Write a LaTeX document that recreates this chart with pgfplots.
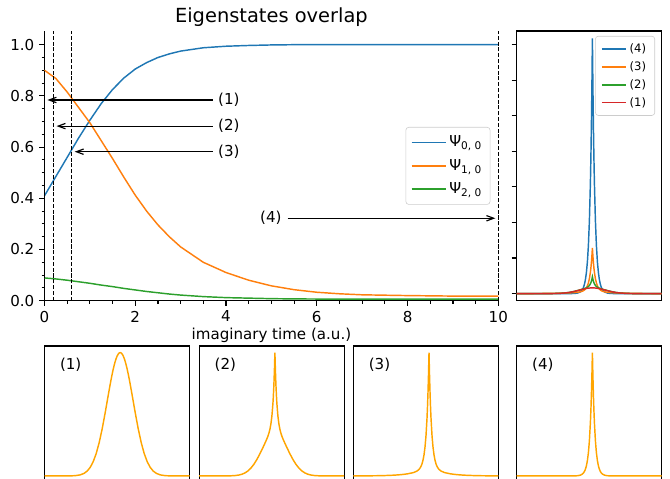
\documentclass[border=0pt]{standalone}
\usepackage{fontspec}
\setmainfont{DejaVu Sans}
\usepackage{pgfplots}
\pgfplotsset{compat=1.18}
\usepackage{pgfplotstable}
\usetikzlibrary{arrows.meta}

\definecolor{tabblue}{HTML}{1F77B4}
\definecolor{taborange}{HTML}{FF7F0E}
\definecolor{tabgreen}{HTML}{2CA02C}
\definecolor{tabred}{HTML}{D62728}
\definecolor{mplorange}{HTML}{FFA500}

% overlaps vs imaginary time
\pgfplotstableread{
t b o g
0 0.410 0.900 0.089
0.25 0.485 0.868 0.085
0.5 0.560 0.815 0.080
0.75 0.635 0.755 0.074
1 0.705 0.695 0.068
1.25 0.770 0.625 0.061
1.5 0.825 0.555 0.055
1.75 0.870 0.482 0.048
2 0.905 0.412 0.042
2.25 0.930 0.350 0.036
2.5 0.950 0.296 0.031
2.75 0.964 0.250 0.026
3 0.975 0.210 0.022
3.5 0.988 0.150 0.016
4 0.994 0.110 0.012
4.5 0.997 0.080 0.010
5 0.999 0.058 0.008
5.5 1.000 0.043 0.007
6 1.000 0.033 0.0065
6.5 1.000 0.027 0.006
7 1.000 0.023 0.006
8 1.000 0.020 0.006
9 1.000 0.018 0.006
10 1.000 0.018 0.006
}\overlaps

% densities: p = normalised (bottom row), r = raw (right panel)
\pgfplotstableread{
d p1 p2 p3 p4 r1 r2 r3 r4
-75.7 0 0 0.0004 0 0 0 0.0005 0
-60 0 0 0.0011 0 0 0 0.0014 0
-50 0.0006 0.0002 0.0022 0 0.0001 0.0001 0.003 0
-45 0.0025 0.0009 0.0032 0 0.0004 0.0004 0.004 0
-40 0.0088 0.0031 0.0046 0 0.0014 0.0015 0.006 0
-36 0.0216 0.0076 0.0061 0 0.0035 0.0036 0.008 0
-33 0.0398 0.0139 0.0076 0 0.0064 0.0065 0.010 0
-30 0.0697 0.0244 0.0094 0 0.011 0.011 0.012 0
-27 0.1157 0.0405 0.0116 0 0.019 0.019 0.015 0
-24 0.1820 0.0637 0.0144 0 0.029 0.030 0.018 0
-21 0.2712 0.0949 0.018 0.0002 0.043 0.045 0.023 0.001
-18 0.3832 0.1341 0.023 0.0006 0.061 0.063 0.029 0.004
-15 0.5140 0.180 0.029 0.0019 0.082 0.085 0.037 0.014
-12 0.6531 0.230 0.040 0.0067 0.104 0.108 0.051 0.048
-10 0.7438 0.265 0.053 0.0155 0.119 0.125 0.068 0.111
-9 0.7870 0.283 0.064 0.0235 0.126 0.133 0.082 0.168
-8 0.8275 0.302 0.078 0.0357 0.132 0.142 0.100 0.256
-7 0.8650 0.322 0.098 0.0541 0.138 0.151 0.125 0.388
-6 0.8990 0.347 0.128 0.0821 0.144 0.163 0.164 0.589
-5 0.9287 0.378 0.171 0.1245 0.149 0.178 0.219 0.893
-4 0.9538 0.422 0.234 0.1889 0.153 0.198 0.300 1.354
-3 0.9737 0.486 0.328 0.2865 0.156 0.228 0.420 2.054
-2 0.9882 0.585 0.469 0.4346 0.158 0.275 0.600 3.116
-1.5 0.9934 0.655 0.564 0.5353 0.159 0.308 0.722 3.838
-1 0.9970 0.743 0.681 0.6592 0.160 0.349 0.872 4.726
-0.5 0.9993 0.856 0.824 0.8119 0.160 0.402 1.055 5.821
0 1 1 1 1 0.160 0.470 1.280 7.170
0.5 0.9993 0.856 0.824 0.8119 0.160 0.402 1.055 5.821
1 0.9970 0.743 0.681 0.6592 0.160 0.349 0.872 4.726
1.5 0.9934 0.655 0.564 0.5353 0.159 0.308 0.722 3.838
2 0.9882 0.585 0.469 0.4346 0.158 0.275 0.600 3.116
3 0.9737 0.486 0.328 0.2865 0.156 0.228 0.420 2.054
4 0.9538 0.422 0.234 0.1889 0.153 0.198 0.300 1.354
5 0.9287 0.378 0.171 0.1245 0.149 0.178 0.219 0.893
6 0.8990 0.347 0.128 0.0821 0.144 0.163 0.164 0.589
7 0.8650 0.322 0.098 0.0541 0.138 0.151 0.125 0.388
8 0.8275 0.302 0.078 0.0357 0.132 0.142 0.100 0.256
9 0.7870 0.283 0.064 0.0235 0.126 0.133 0.082 0.168
10 0.7438 0.265 0.053 0.0155 0.119 0.125 0.068 0.111
12 0.6531 0.230 0.040 0.0067 0.104 0.108 0.051 0.048
15 0.5140 0.180 0.029 0.0019 0.082 0.085 0.037 0.014
18 0.3832 0.1341 0.023 0.0006 0.061 0.063 0.029 0.004
21 0.2712 0.0949 0.018 0.0002 0.043 0.045 0.023 0.001
24 0.1820 0.0637 0.0144 0 0.029 0.030 0.018 0
27 0.1157 0.0405 0.0116 0 0.019 0.019 0.015 0
30 0.0697 0.0244 0.0094 0 0.011 0.011 0.012 0
33 0.0398 0.0139 0.0076 0 0.0064 0.0065 0.010 0
36 0.0216 0.0076 0.0061 0 0.0035 0.0036 0.008 0
40 0.0088 0.0031 0.0046 0 0.0014 0.0015 0.006 0
45 0.0025 0.0009 0.0032 0 0.0004 0.0004 0.004 0
50 0.0006 0.0002 0.0022 0 0.0001 0.0001 0.003 0
60 0 0 0.0011 0 0 0 0.0014 0
69.3 0 0 0.0006 0 0 0 0.0008 0
}\shapes

\newcommand\txt{\fontsize{10.4}{12.5}\selectfont}

\pgfplotsset{
  mpl/.style={scale only axis, axis line style={line width=0.8pt},
    tick style={line width=0.8pt, black}, tick align=outside,
    major tick length=3.5pt, minor tick length=2pt,
    /pgf/number format/assume math mode=true,
    tick label style={font=\txt}},
  panel/.style={mpl, width=100.05pt, height=100.05pt,
    xmin=-75.7, xmax=69.3, ymin=-0.122, ymax=1.054,
    xtick=\empty, ytick=\empty},
  vline/.style={black, line width=0.75pt, dash pattern=on 2.8pt off 1.2pt, forget plot},
}

\begin{document}
\begin{tikzpicture}
\tikzset{arr/.style={line width=0.8pt, -{Straight Barb[length=5pt,width=3.7pt]}},
  plab/.style={font=\txt, anchor=west, inner sep=0pt}}

% main panel
\begin{axis}[mpl, at={(30.71pt,122.34pt)}, width=313.12pt, height=186.09pt,
  xmin=0, xmax=10, ymin=0, ymax=1.0535, clip=false,
  axis x line*=bottom, axis y line*=left,
  xtick={0,2,...,10}, ytick={0,0.2,...,1.0}, minor x tick num=3, minor y tick num=3,
  yticklabel style={/pgf/number format/.cd, fixed, fixed zerofill, precision=1},
  xlabel={imaginary time (a.u.)},
  xlabel style={font=\txt, at={(axis description cs:0.5,0)}, anchor=base, yshift=-26.8pt},
  legend cell align=left,
  legend image code/.code={\draw[#1] (0pt,0pt) -- (23.5pt,0pt);},
  legend style={at={(axis description cs:1,0.5)}, anchor=east, xshift=-5.5pt,
    draw=black!20, rounded corners=2pt, font=\txt,
    inner xsep=3.5pt, inner ysep=4pt, row sep=3pt},
]
\addplot[tabblue, line width=1pt] table[x=t, y=b] {\overlaps};
\addlegendentry{Ψ\textsubscript{0, 0}}
\addplot[taborange, line width=1pt] table[x=t, y=o] {\overlaps};
\addlegendentry{Ψ\textsubscript{1, 0}}
\addplot[tabgreen, line width=1pt] table[x=t, y=g] {\overlaps};
\addlegendentry{Ψ\textsubscript{2, 0}}
\addplot[vline] coordinates {(0,0) (0,1.0535)};
\addplot[vline] coordinates {(0.2,0) (0.2,1.0535)};
\addplot[vline] coordinates {(0.6,0) (0.6,1.0535)};
\addplot[vline] coordinates {(10,0) (10,1.0535)};
\draw[arr] (axis cs:3.71,0.784) -- (axis cs:0.065,0.784);
\node[plab] at (axis cs:3.82,0.784) {(1)};
\draw[arr] (axis cs:3.71,0.682) -- (axis cs:0.265,0.682);
\node[plab] at (axis cs:3.82,0.682) {(2)};
\draw[arr] (axis cs:3.71,0.582) -- (axis cs:0.665,0.582);
\node[plab] at (axis cs:3.82,0.582) {(3)};
\draw[arr] (axis cs:5.36,0.322) -- (axis cs:9.935,0.322);
\node[plab, anchor=east] at (axis cs:5.23,0.322) {(4)};
\node[font=\fontsize{13.4}{16}\selectfont, anchor=base, inner sep=0pt]
  at (axis description cs:0.5,1) [yshift=6pt] {Eigenstates overlap};
\end{axis}

% right panel: raw densities
\begin{axis}[mpl, at={(356.52pt,122.34pt)}, width=100.05pt, height=186.09pt,
  xmin=-75.7, xmax=69.3, ymin=-0.2, ymax=7.38,
  xtick=\empty, ytick={0,...,7}, yticklabel=\empty, ytick pos=left,
  legend cell align=left,
  legend image code/.code={\draw[#1] (0pt,0pt) -- (16.6pt,0pt);},
  legend style={at={(axis description cs:1,1)}, anchor=north east, xshift=-4.6pt, yshift=-3.4pt,
    draw=black!20, rounded corners=2pt, font=\fontsize{8}{9.5}\selectfont,
    inner xsep=4pt, inner ysep=3pt, row sep=0.8pt},
]
\addplot[tabblue, line width=1pt] table[x=d, y=r4] {\shapes};
\addlegendentry{(4)}
\addplot[taborange, line width=1pt] table[x=d, y=r3] {\shapes};
\addlegendentry{(3)}
\addplot[tabgreen, line width=1pt] table[x=d, y=r2] {\shapes};
\addlegendentry{(2)}
\addplot[tabred, line width=1pt] table[x=d, y=r1] {\shapes};
\addlegendentry{(1)}
\end{axis}

% bottom row: normalised densities
\begin{axis}[panel, at={(30.71pt,-8.97pt)}]
\addplot[mplorange, line width=1pt] table[x=d, y=p1] {\shapes};
\node[plab] at (rel axis cs:0.105,0.87) {(1)};
\end{axis}
\begin{axis}[panel, at={(137.45pt,-8.97pt)}]
\addplot[mplorange, line width=1pt] table[x=d, y=p2] {\shapes};
\node[plab] at (rel axis cs:0.105,0.87) {(2)};
\end{axis}
\begin{axis}[panel, at={(243.78pt,-8.97pt)}]
\addplot[mplorange, line width=1pt] table[x=d, y=p3] {\shapes};
\node[plab] at (rel axis cs:0.105,0.87) {(3)};
\end{axis}
\begin{axis}[panel, at={(356.52pt,-8.97pt)}]
\addplot[mplorange, line width=1pt] table[x=d, y=p4] {\shapes};
\node[plab] at (rel axis cs:0.105,0.87) {(4)};
\end{axis}

\pgfresetboundingbox
\path[use as bounding box] (0,0) rectangle (462.3pt,329.82pt);
\end{tikzpicture}
\end{document}
